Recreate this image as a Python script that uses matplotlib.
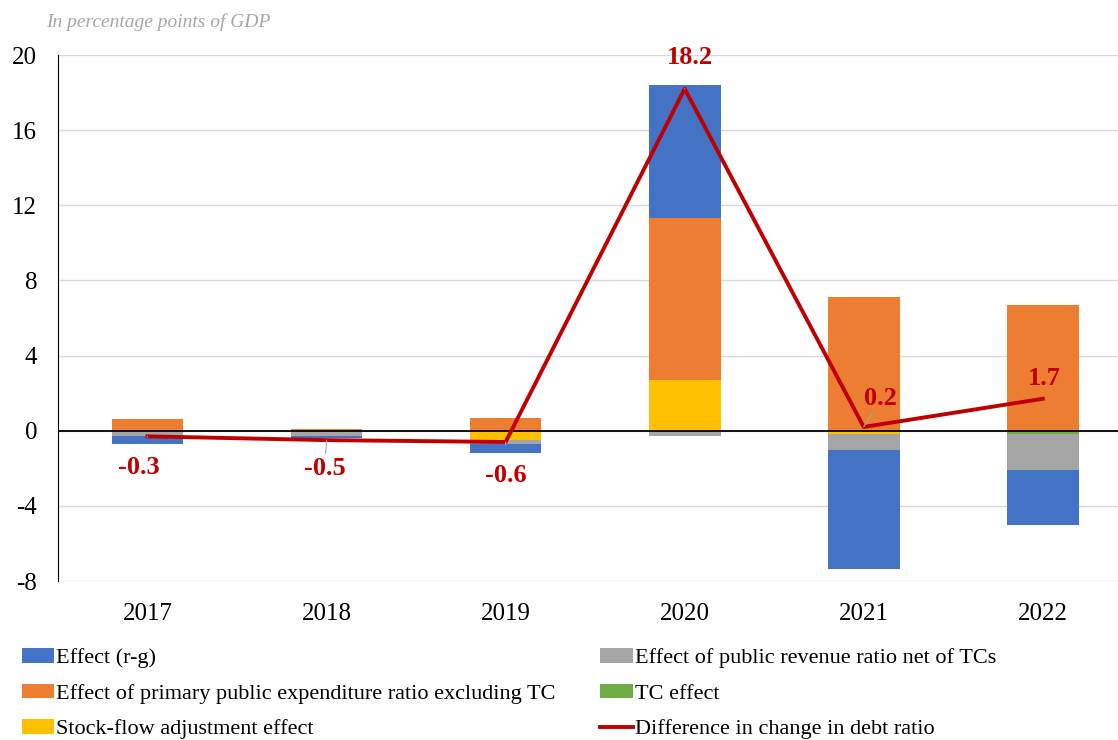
import numpy as np
import matplotlib.pyplot as plt

years = ['2017', '2018', '2019', '2020', '2021', '2022']
r_g = [-0.4, -0.1, -0.5, 7.1, -6.3, -2.9]
revenue = [-0.3, -0.3, -0.2, -0.3, -0.9, -1.95]
expenditure = [0.6, 0.1, 0.7, 8.6, 7.1, 6.7]
tc = [0.0, 0.0, 0.0, 0.0, 0.0, -0.15]
sfa = [0.0, 0.0, -0.5, 2.7, -0.15, 0.0]
debt_diff = [-0.3, -0.5, -0.6, 18.2, 0.2, 1.7]

plt.rcParams['font.family'] = ['Liberation Serif', 'DejaVu Serif']
plt.rcParams['axes.unicode_minus'] = False

fig = plt.figure(figsize=(11.18, 7.40), dpi=100)
ax = fig.add_axes([58 / 1118, 159 / 740, 1060 / 1118, 526 / 740])

x = np.arange(len(years))
w = 0.4
# stacking order: closest to zero first
series = [
    (sfa, '#FFC000', 'Stock-flow adjustment effect'),
    (tc, '#70AD47', 'TC effect'),
    (expenditure, '#ED7D31', 'Effect of primary public expenditure ratio excluding TC'),
    (revenue, '#A5A5A5', 'Effect of public revenue ratio net of TCs'),
    (r_g, '#4472C4', 'Effect (r-g)'),
]
pos = np.zeros(len(years))
neg = np.zeros(len(years))
handles = {}
for vals, col, lab in series:
    v = np.array(vals)
    base = np.where(v >= 0, pos, neg)
    h = ax.bar(x, v, w, bottom=base, color=col, label=lab, zorder=2)
    handles[lab] = h
    pos += np.where(v >= 0, v, 0)
    neg += np.where(v < 0, v, 0)

line, = ax.plot(x, debt_diff, color='#C00000', lw=2.8, zorder=4,
                label='Difference in change in debt ratio')

ax.axhline(0, color='black', lw=1.3, zorder=3)
ax.set_ylim(-8, 20)
ax.set_yticks(np.arange(-8, 21, 4))
ax.set_xlim(-0.5, 5.42)
ax.set_xticks(x)
ax.set_xticklabels(years)
ax.yaxis.grid(True, color='#D9D9D9', lw=1, zorder=0)
ax.set_axisbelow(True)
for s in ['top', 'right', 'bottom']:
    ax.spines[s].set_visible(False)
ax.spines['left'].set_color('black')
ax.tick_params(axis='both', length=0, labelsize=18)
ax.tick_params(axis='y', pad=15)
ax.tick_params(axis='x', pad=16)

# value labels for the debt ratio line
offsets = [(-9, -31), (-2, -28), (0, -34), (5, 31), (17, 28), (2, 20)]
for i, (val, off) in enumerate(zip(debt_diff, offsets)):
    arrow = None
    if abs(off[1]) > 25:
        arrow = dict(arrowstyle='-', color='#A6A6A6', lw=0.8, shrinkA=12, shrinkB=0)
    ax.annotate(f'{val:.1f}', (x[i], val), xytext=off, textcoords='offset pixels',
                ha='center', va='center', color='#C00000', fontsize=19,
                fontweight='bold', zorder=5, arrowprops=arrow)

fig.text(46 / 1118, 1 - 22 / 740, 'In percentage points of GDP', style='italic',
         color='#A6A6A6', fontsize=14, va='center')

order = ['Effect (r-g)', 'Effect of primary public expenditure ratio excluding TC',
         'Stock-flow adjustment effect', 'Effect of public revenue ratio net of TCs',
         'TC effect']
hs = [handles[k] for k in order] + [line]
ls = order + ['Difference in change in debt ratio']
fig.legend(hs, ls, ncol=2, loc='upper left', bbox_to_anchor=(22 / 1118, 1 - 648 / 740),
           frameon=False, fontsize=16, handlelength=1.45, handleheight=0.65,
           handletextpad=0.1, columnspacing=2.0, labelspacing=0.69, borderaxespad=0,
           borderpad=0)

fig.savefig('out.png', dpi=100)
